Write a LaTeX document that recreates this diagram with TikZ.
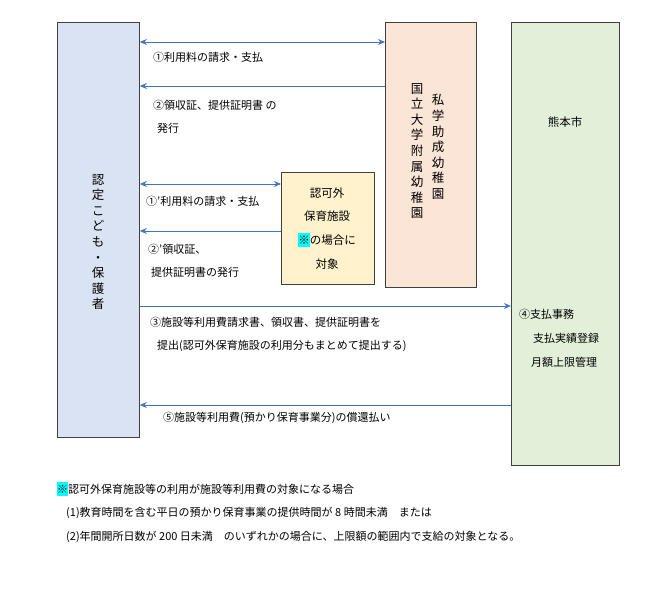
\documentclass[tikz,border=0pt]{standalone}
\usepackage{fontspec}
\setmainfont{Noto Sans CJK JP}
\usetikzlibrary{arrows.meta}
\definecolor{ln}{HTML}{4472C4}
\definecolor{hl}{HTML}{00FFFF}
\tikzset{
 boxst/.style={draw=black!75,line width=0.8pt},
 arr/.style={ln,line width=1pt,-{Stealth[length=7pt,width=6pt]}},
 darr/.style={ln,line width=1pt,{Stealth[length=7pt,width=6pt]}-{Stealth[length=7pt,width=6pt]}},
 lbl/.style={anchor=west,inner sep=0,font=\fontsize{11}{13}\selectfont},
 ctr/.style={inner sep=0,font=\fontsize{11.5}{13}\selectfont},
 vt/.style={inner sep=0,align=center,font=\fontsize{12.5}{15.6}\selectfont}
}
\begin{document}
\begin{tikzpicture}[x=1pt,y=-1pt]
\useasboundingbox (0,0) rectangle (664,592);
\node[boxst,fill={rgb,255:red,218;green,227;blue,243},minimum width=82pt,minimum height=415pt,anchor=north west] (fam) at (57,22) {};
\node[boxst,fill={rgb,255:red,251;green,229;blue,214},minimum width=91pt,minimum height=265pt,anchor=north west] (priv) at (385,22) {};
\node[boxst,fill={rgb,255:red,255;green,242;blue,204},minimum width=93pt,minimum height=112pt,anchor=north west] (nin) at (281,172) {};
\node[boxst,fill={rgb,255:red,226;green,240;blue,217},minimum width=108pt,minimum height=443pt,anchor=north west] (kuma) at (511,22) {};
\node[vt] (famt) at (98,242) {認\\定\\こ\\ど\\も\\・\\保\\護\\者};
\node[vt] (privA) at (417,151) {国\\立\\大\\学\\附\\属\\幼\\稚\\園};
\node[vt] (privB) at (438,147) {私\\学\\助\\成\\幼\\稚\\園};
\node[ctr] (kt) at (565,122) {熊本市};
\node[lbl] (k1) at (519,314) {④支払事務};
\node[lbl] (k2) at (533,338) {支払実績登録};
\node[lbl] (k3) at (531,362) {月額上限管理};
\node[ctr] (n1) at (327,193) {認可外};
\node[ctr] (n2) at (327,216) {保育施設};
\node[ctr] (n3) at (327,240) {\colorbox{hl}{\kern-3pt※\kern-3pt}の場合に};
\node[ctr] (n4) at (327,264) {対象};
\coordinate (a1L) at (fam.east |- 0,42); \coordinate (a1R) at (priv.west |- 0,42);
\coordinate (a2L) at (fam.east |- 0,86); \coordinate (a2R) at (priv.west |- 0,86);
\coordinate (b1L) at (fam.east |- 0,184); \coordinate (b1R) at (nin.west |- 0,184);
\coordinate (b2L) at (fam.east |- 0,231); \coordinate (b2R) at (nin.west |- 0,231);
\coordinate (c1L) at (fam.east |- 0,306); \coordinate (c1R) at (kuma.west |- 0,306);
\coordinate (c2L) at (fam.east |- 0,405); \coordinate (c2R) at (kuma.west |- 0,405);
\draw[darr] (a1L) -- (a1R);
\draw[arr] (a2R) -- (a2L);
\draw[darr] (b1L) -- (b1R);
\draw[arr] (b2R) -- (b2L);
\draw[arr] (c1L) -- (c1R);
\draw[arr] (c2R) -- (c2L);
\node[lbl] (l1) at (153,57) {①利用料の請求・支払};
\node[lbl] (l2) at (153,105) {②領収証、提供証明書\ の};
\node[lbl] (l3) at (157,128) {発行};
\node[lbl] (l4) at (146,201) {①’利用料の請求・支払};
\node[lbl] (l5) at (148,249) {②’領収証、};
\node[lbl] (l6) at (151,272) {提供証明書の発行};
\node[lbl] (l7) at (150,322) {③施設等利用費請求書、領収書、提供証明書を};
\node[lbl] (l8) at (157,346) {提出(認可外保育施設の利用分もまとめて提出する)};
\node[lbl] (l9) at (163,418) {⑤施設等利用費(預かり保育事業分)の償還払い};
\node[lbl] (f1) at (57,489) {\colorbox{hl}{\kern-3pt※\kern-3pt}認可外保育施設等の利用が施設等利用費の対象になる場合};
\node[lbl] (f2) at (66,513) {(1)教育時間を含む平日の預かり保育事業の提供時間が 8 時間未満\quad または};
\node[lbl] (f3) at (66,537) {(2)年間開所日数が 200 日未満\quad のいずれかの場合に、上限額の範囲内で支給の対象となる。};
\end{tikzpicture}
\end{document}
